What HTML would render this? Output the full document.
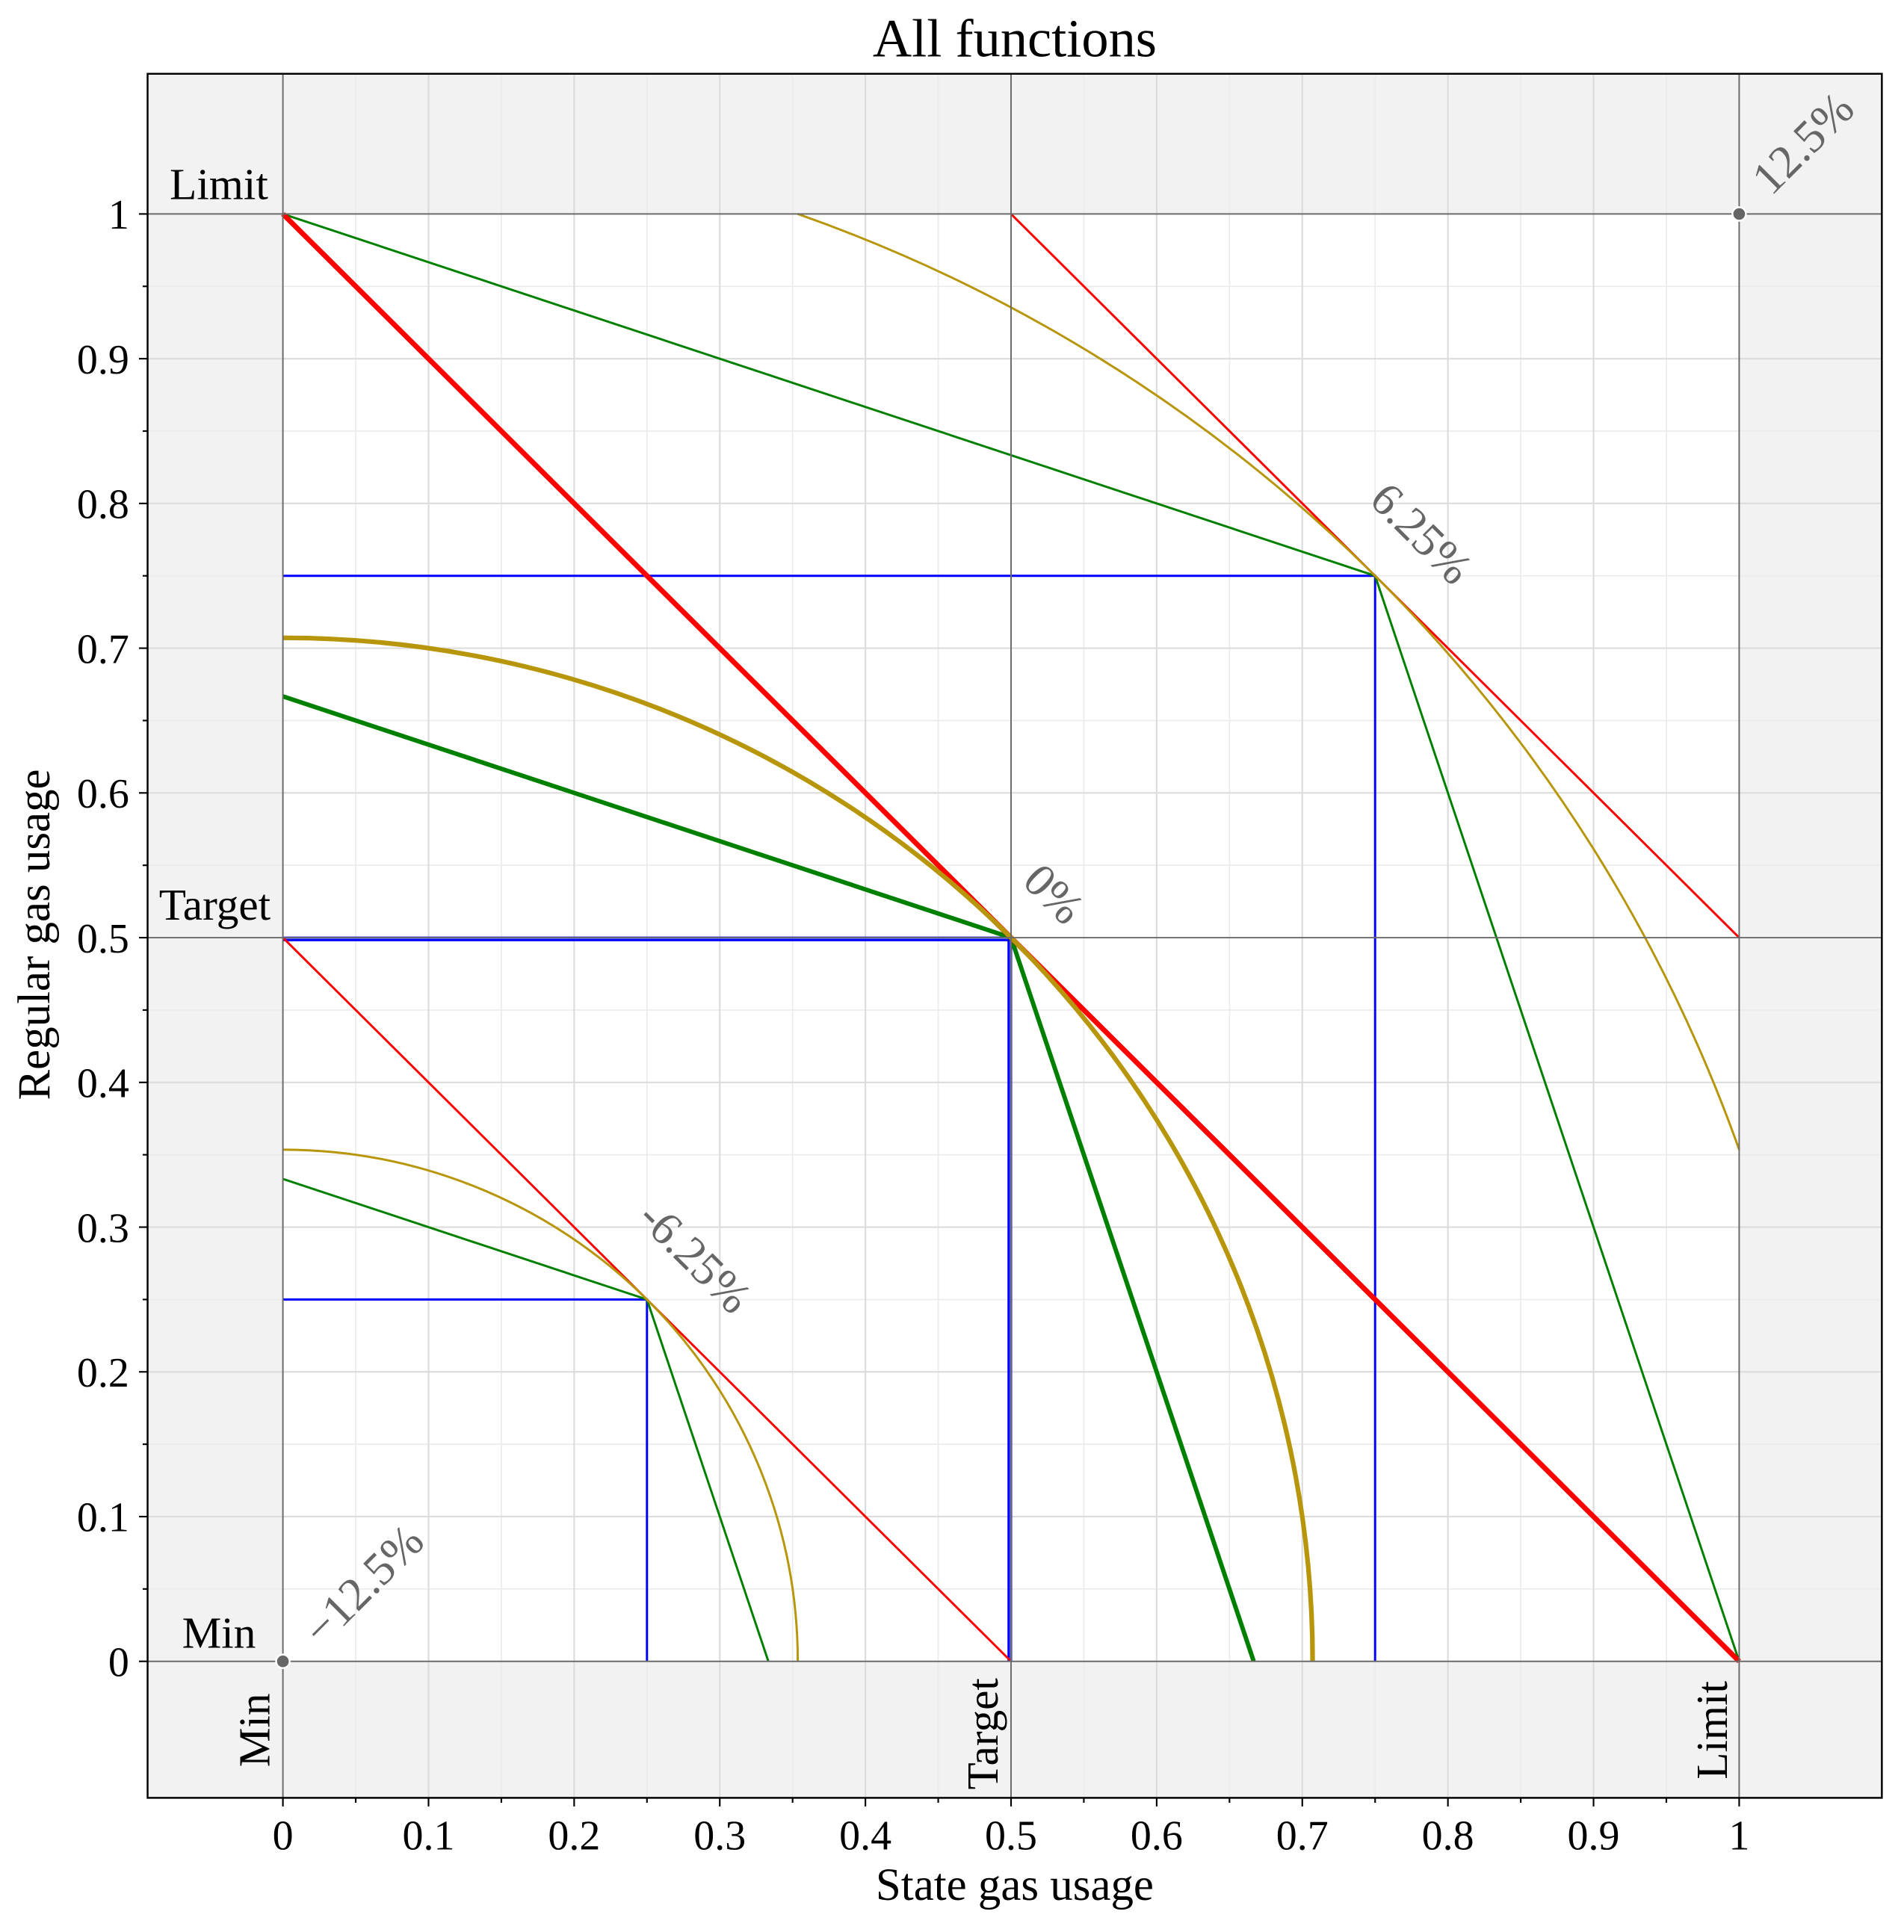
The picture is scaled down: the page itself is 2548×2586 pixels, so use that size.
<!DOCTYPE html>
<html><head><meta charset="utf-8"><style>html,body{margin:0;padding:0;background:#fff}svg{display:block}</style></head>
<body>
<svg width="2548" height="2586" viewBox="0 0 1548 1571.1" xmlns="http://www.w3.org/2000/svg" font-family="'Liberation Serif', serif">
<rect x="0" y="0" width="1548" height="1572" fill="#fff"/>
<rect x="120" y="60" width="1410" height="1402" fill="#f2f2f2"/>
<rect x="230" y="174" width="1184" height="1177" fill="#fff"/>
<g stroke="#ebebeb" stroke-width="1">
<line x1="289.2" y1="60" x2="289.2" y2="1462"/><line x1="407.6" y1="60" x2="407.6" y2="1462"/><line x1="526" y1="60" x2="526" y2="1462"/><line x1="644.4" y1="60" x2="644.4" y2="1462"/><line x1="762.8" y1="60" x2="762.8" y2="1462"/><line x1="881.2" y1="60" x2="881.2" y2="1462"/><line x1="999.6" y1="60" x2="999.6" y2="1462"/><line x1="1118" y1="60" x2="1118" y2="1462"/><line x1="1236.4" y1="60" x2="1236.4" y2="1462"/><line x1="1354.8" y1="60" x2="1354.8" y2="1462"/>
<line x1="120" y1="1292.15" x2="1530" y2="1292.15"/><line x1="120" y1="1174.45" x2="1530" y2="1174.45"/><line x1="120" y1="1056.75" x2="1530" y2="1056.75"/><line x1="120" y1="939.05" x2="1530" y2="939.05"/><line x1="120" y1="821.35" x2="1530" y2="821.35"/><line x1="120" y1="703.65" x2="1530" y2="703.65"/><line x1="120" y1="585.95" x2="1530" y2="585.95"/><line x1="120" y1="468.25" x2="1530" y2="468.25"/><line x1="120" y1="350.55" x2="1530" y2="350.55"/><line x1="120" y1="232.85" x2="1530" y2="232.85"/>
</g>
<g stroke="#dcdcdc" stroke-width="1.3">
<line x1="348.4" y1="60" x2="348.4" y2="1462"/><line x1="466.8" y1="60" x2="466.8" y2="1462"/><line x1="585.2" y1="60" x2="585.2" y2="1462"/><line x1="703.6" y1="60" x2="703.6" y2="1462"/><line x1="940.4" y1="60" x2="940.4" y2="1462"/><line x1="1058.8" y1="60" x2="1058.8" y2="1462"/><line x1="1177.2" y1="60" x2="1177.2" y2="1462"/><line x1="1295.6" y1="60" x2="1295.6" y2="1462"/>
<line x1="120" y1="1233.3" x2="1530" y2="1233.3"/><line x1="120" y1="1115.6" x2="1530" y2="1115.6"/><line x1="120" y1="997.9" x2="1530" y2="997.9"/><line x1="120" y1="880.2" x2="1530" y2="880.2"/><line x1="120" y1="644.8" x2="1530" y2="644.8"/><line x1="120" y1="527.1" x2="1530" y2="527.1"/><line x1="120" y1="409.4" x2="1530" y2="409.4"/><line x1="120" y1="291.7" x2="1530" y2="291.7"/>
</g>
<g fill="none" stroke-linejoin="miter">
<polyline points="230,468.25 1118,468.25 1118,1351" stroke="#0000ff" stroke-width="1.8"/>
<polyline points="230,1056.75 526,1056.75 526,1351" stroke="#0000ff" stroke-width="1.8"/>
<polyline points="230,762.5 822,762.5 822,1351" stroke="#0000ff" stroke-width="1.8"/>
<polyline points="230,764.5 820,764.5 820,1351" stroke="#0000ff" stroke-width="1.8"/>
<polyline points="230,174 1118,468.25 1414,1351" stroke="#008000" stroke-width="1.8"/>
<polyline points="230,958.7 526,1056.75 624.7,1351" stroke="#008000" stroke-width="1.8"/>
<polyline points="230,566.3 822,762.5 1019.3,1351" stroke="#008000" stroke-width="3.6"/>
<line x1="230" y1="174" x2="1414" y2="1351" stroke="#ff0000" stroke-width="4.2"/>
<line x1="230" y1="762.5" x2="822" y2="1351" stroke="#ff0000" stroke-width="1.8"/>
<line x1="822" y1="174" x2="1414" y2="762.5" stroke="#ff0000" stroke-width="1.8"/>
<path d="M230,518.7 A837.2,832.3 0 0 1 1067.2,1351" stroke="#b8960b" stroke-width="3.8"/>
<path d="M230,934.9 A418.6,416.1 0 0 1 648.6,1351" stroke="#b8960b" stroke-width="1.8"/>
<path d="M648.6,174 A1255.8,1248.4 0 0 1 1414,934.9" stroke="#b8960b" stroke-width="1.8"/>
</g>
<g stroke="#6b6b6b" stroke-width="1.2">
<line x1="230" y1="60" x2="230" y2="1462"/><line x1="822" y1="60" x2="822" y2="1462"/><line x1="1414" y1="60" x2="1414" y2="1462"/>
<line x1="120" y1="174" x2="1530" y2="174"/><line x1="120" y1="762.5" x2="1530" y2="762.5"/><line x1="120" y1="1351" x2="1530" y2="1351"/>
</g>
<circle cx="230" cy="1351" r="5.5" fill="#666" stroke="#fff" stroke-width="1.5"/>
<circle cx="1414" cy="174" r="5.5" fill="#666" stroke="#fff" stroke-width="1.5"/>
<rect x="120" y="60" width="1410" height="1402" fill="none" stroke="#000" stroke-width="1.5"/>
<g stroke="#000" stroke-width="1.3">
<line x1="230" y1="1462" x2="230" y2="1469"/><line x1="348.4" y1="1462" x2="348.4" y2="1469"/><line x1="466.8" y1="1462" x2="466.8" y2="1469"/><line x1="585.2" y1="1462" x2="585.2" y2="1469"/><line x1="703.6" y1="1462" x2="703.6" y2="1469"/><line x1="822" y1="1462" x2="822" y2="1469"/><line x1="940.4" y1="1462" x2="940.4" y2="1469"/><line x1="1058.8" y1="1462" x2="1058.8" y2="1469"/><line x1="1177.2" y1="1462" x2="1177.2" y2="1469"/><line x1="1295.6" y1="1462" x2="1295.6" y2="1469"/><line x1="1414" y1="1462" x2="1414" y2="1469"/>
<line x1="289.2" y1="1462" x2="289.2" y2="1466"/><line x1="407.6" y1="1462" x2="407.6" y2="1466"/><line x1="526" y1="1462" x2="526" y2="1466"/><line x1="644.4" y1="1462" x2="644.4" y2="1466"/><line x1="762.8" y1="1462" x2="762.8" y2="1466"/><line x1="881.2" y1="1462" x2="881.2" y2="1466"/><line x1="999.6" y1="1462" x2="999.6" y2="1466"/><line x1="1118" y1="1462" x2="1118" y2="1466"/><line x1="1236.4" y1="1462" x2="1236.4" y2="1466"/><line x1="1354.8" y1="1462" x2="1354.8" y2="1466"/>
<line x1="113" y1="1351" x2="120" y2="1351"/><line x1="113" y1="1233.3" x2="120" y2="1233.3"/><line x1="113" y1="1115.6" x2="120" y2="1115.6"/><line x1="113" y1="997.9" x2="120" y2="997.9"/><line x1="113" y1="880.2" x2="120" y2="880.2"/><line x1="113" y1="762.5" x2="120" y2="762.5"/><line x1="113" y1="644.8" x2="120" y2="644.8"/><line x1="113" y1="527.1" x2="120" y2="527.1"/><line x1="113" y1="409.4" x2="120" y2="409.4"/><line x1="113" y1="291.7" x2="120" y2="291.7"/><line x1="113" y1="174" x2="120" y2="174"/>
<line x1="116" y1="1292.15" x2="120" y2="1292.15"/><line x1="116" y1="1174.45" x2="120" y2="1174.45"/><line x1="116" y1="1056.75" x2="120" y2="1056.75"/><line x1="116" y1="939.05" x2="120" y2="939.05"/><line x1="116" y1="821.35" x2="120" y2="821.35"/><line x1="116" y1="703.65" x2="120" y2="703.65"/><line x1="116" y1="585.95" x2="120" y2="585.95"/><line x1="116" y1="468.25" x2="120" y2="468.25"/><line x1="116" y1="350.55" x2="120" y2="350.55"/><line x1="116" y1="232.85" x2="120" y2="232.85"/>
</g>
<g font-size="34" fill="#000" text-anchor="middle">
<text x="230" y="1504">0</text><text x="348.4" y="1504">0.1</text><text x="466.8" y="1504">0.2</text><text x="585.2" y="1504">0.3</text><text x="703.6" y="1504">0.4</text><text x="822" y="1504">0.5</text><text x="940.4" y="1504">0.6</text><text x="1058.8" y="1504">0.7</text><text x="1177.2" y="1504">0.8</text><text x="1295.6" y="1504">0.9</text><text x="1414" y="1504">1</text>
</g>
<g font-size="34" fill="#000" text-anchor="end">
<text x="105" y="1363">0</text><text x="105" y="1245.3">0.1</text><text x="105" y="1127.6">0.2</text><text x="105" y="1009.9">0.3</text><text x="105" y="892.2">0.4</text><text x="105" y="774.5">0.5</text><text x="105" y="656.8">0.6</text><text x="105" y="539.1">0.7</text><text x="105" y="421.4">0.8</text><text x="105" y="303.7">0.9</text><text x="105" y="186">1</text>
</g>
<text x="825" y="46" font-size="44" text-anchor="middle">All functions</text>
<text x="825" y="1545" font-size="37" text-anchor="middle">State gas usage</text>
<text transform="translate(40,760) rotate(-90)" font-size="37" text-anchor="middle">Regular gas usage</text>
<g font-size="36" fill="#000" text-anchor="end">
<text x="218" y="162">Limit</text>
<text x="220" y="748">Target</text>
<text x="208" y="1340">Min</text>
</g>
<g font-size="36" fill="#000" text-anchor="middle">
<text transform="translate(219,1407) rotate(-90)">Min</text>
<text transform="translate(811,1410) rotate(-90)">Target</text>
<text transform="translate(1404,1407) rotate(-90)">Limit</text>
</g>
<g font-size="38" fill="#666">
<text transform="translate(262,1340) rotate(-45)">−12.5%</text>
<text transform="translate(1440,160) rotate(-45)">12.5%</text>
<text transform="translate(1112,408) rotate(45)">6.25%</text>
<text transform="translate(830,718) rotate(45)">0%</text>
<text transform="translate(517,992) rotate(45)">-6.25%</text>
</g>
</svg>
</body></html>
